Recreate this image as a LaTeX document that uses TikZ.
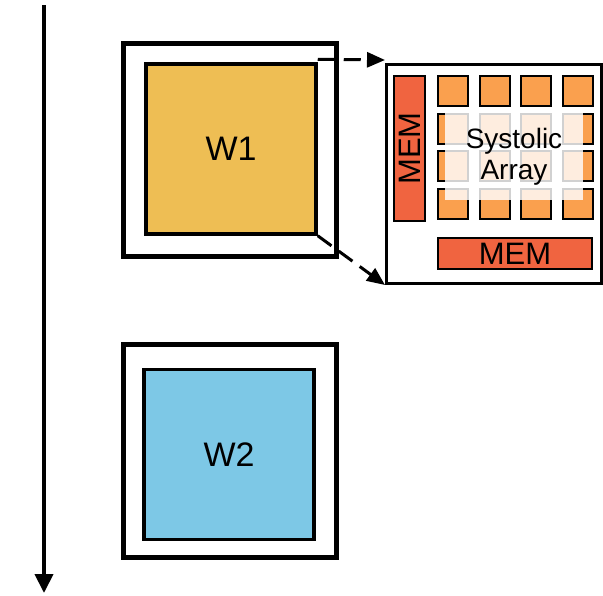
\documentclass[tikz,border=0pt]{standalone}
\usepackage{fontspec}
\setmainfont{Liberation Sans}
\usetikzlibrary{arrows.meta}
\definecolor{wgold}{RGB}{238,190,84}
\definecolor{wblue}{RGB}{125,200,230}
\definecolor{peorange}{RGB}{250,160,78}
\definecolor{memred}{RGB}{240,100,64}
\tikzset{
  outerbox/.style={draw=black, line width=5.5pt, inner sep=0pt, minimum width=213pt, minimum height=213pt},
  workload/.style={draw=black, line width=3.5pt, inner sep=0pt, minimum width=170pt, minimum height=170pt, font=\fontsize{34}{40}\selectfont},
  pebox/.style={draw=black, line width=2pt, fill=peorange, inner sep=0pt, minimum width=30pt, minimum height=30pt},
  membox/.style={draw=black, line width=2pt, fill=memred, inner sep=0pt, font=\fontsize{31}{34}\selectfont},
  zoomarrow/.style={line width=3pt, dash pattern=on 17pt off 9pt, -{Triangle[length=18pt,width=15pt]}}
}
\begin{document}
\begin{tikzpicture}[x=1pt,y=-1pt]
\useasboundingbox (0,0) rectangle (603,595);

% time axis
\coordinate (tstart) at (44,5);
\coordinate (tend) at (44,593);
\draw[line width=4pt, -{Triangle[length=19pt,width=18pt]}] (tstart) -- (tend);

% first workload
\node[outerbox] (w1out) at (230,150) {};
\node[workload, fill=wgold] (w1) at (231,149) {W1};

% second workload
\node[outerbox] (w2out) at (230,451) {};
\node[workload, fill=wblue] (w2) at (229,454.5) {W2};

% accelerator detail
\node[draw=black, line width=3pt, fill=white, inner sep=0pt, minimum width=215pt, minimum height=219pt] (acc) at (494,174) {};

\node[membox, minimum width=31pt, minimum height=145pt] (memv) at (409.5,148.5) {\rotatebox{90}{MEM}};
\node[membox, minimum width=154pt, minimum height=31pt] (memh) at (515,253.5) {MEM};

\foreach \c in {0,1,2,3}{
  \foreach \r in {0,1,2,3}{
    \node[pebox] (pe\r\c) at ({453+41.5*\c},{91+37.5*\r}) {};
  }
}

\fill[white, opacity=0.82] (445,112) rectangle (583,200);
\node[align=center, font=\fontsize{28}{31}\selectfont] (sa) at (514,157) {Systolic\\Array};

% zoom connectors
\coordinate (topend) at ([yshift=3pt]acc.north west);
\draw[zoomarrow] ([yshift=3pt]w1.north east) -- (topend);
\draw[zoomarrow] (w1.south east) -- (acc.south west);
\end{tikzpicture}
\end{document}
